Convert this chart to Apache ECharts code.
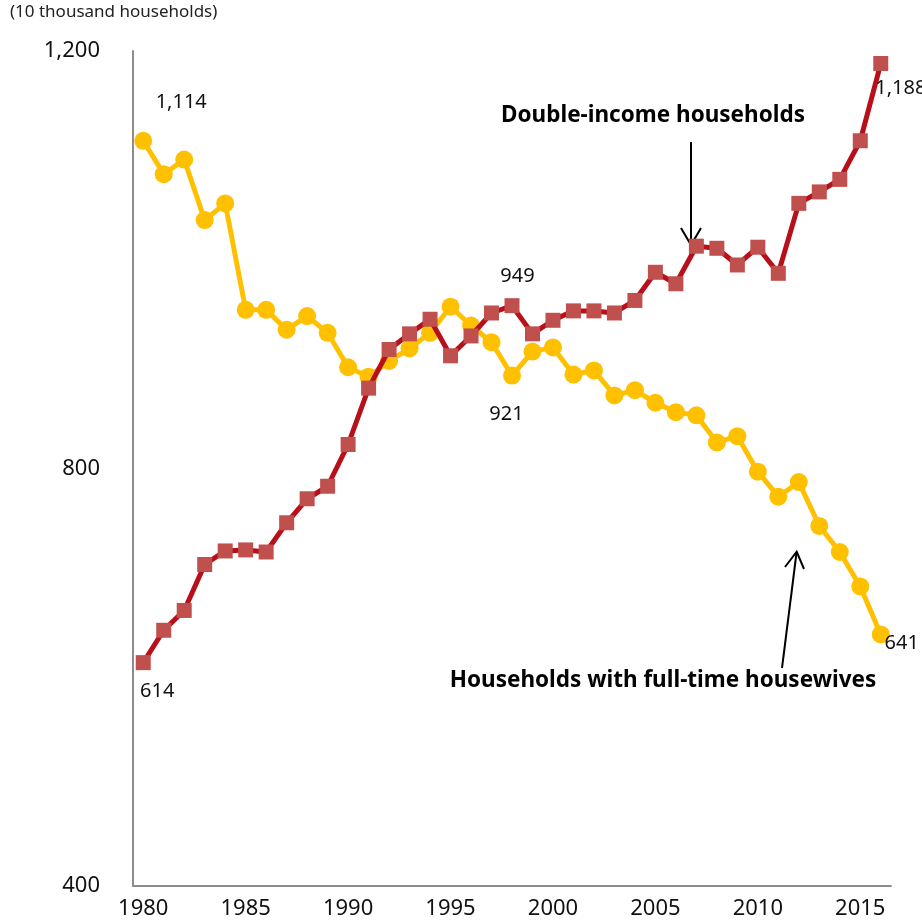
<!DOCTYPE html>
<html>
<head>
<meta charset="utf-8">
<script src="https://cdn.jsdelivr.net/npm/echarts@6/dist/echarts.min.js"></script>
<style>
  html, body { margin: 0; padding: 0; background: #ffffff; }
  #chart { width: 922px; height: 922px; }
</style>
</head>
<body>
<div id="chart"></div>
<script>
// Survey years (x axis categories)
const years = ['1980','1981','1982','1983','1984','1985','1986','1987','1988','1989',
               '1990','1991','1992','1993','1994','1995','1996','1997','1998','1999',
               '2000','2001','2002','2003','2004','2005','2006','2007','2008','2009',
               '2010','2011','2012','2013','2014','2015','2016'];

// Households with full-time housewives (10 thousand households)
const housewifeHouseholds = [1114,1082,1096,1038,1054,952,952,933,946,930,
                             897,888,903,915,930,955,937,921,889,912,
                             916,890,894,870,875,863,854,851,825,831,
                             797,773,787,745,720,687,641];

// Double-income households (10 thousand households)
const dualIncomeHouseholds = [614,645,664,708,721,722,720,748,771,783,
                              823,877,914,929,943,908,927,949,956,929,
                              942,951,951,949,961,988,977,1013,1011,995,
                              1012,987,1054,1065,1077,1114,1188];

// Value axis ticks
const yTicks = [400, 800, 1200];

const FONT = 'Noto Sans';
const fmt = v => Number(v).toLocaleString('en-US');

// Which points carry a value label, and where the text sits relative to the marker
const housewifeLabelAt = { 0: [38, -38], 17: [15, 72], 36: [21, 9] };
const dualLabelAt = { 0: [14, 29], 17: [26, -37], 36: [20, 25] };

function withLabels(values, labelAt) {
  return values.map((v, i) => {
    if (!(i in labelAt)) return v;
    return {
      value: v,
      label: {
        show: true,
        position: 'inside',
        offset: labelAt[i],
        formatter: p => fmt(p.value),
        color: '#111',
        fontFamily: FONT,
        fontSize: 20
      }
    };
  });
}

const chart = echarts.init(document.getElementById('chart'), null, { renderer: 'canvas' });

chart.setOption({
  animation: false,
  backgroundColor: '#ffffff',
  textStyle: { fontFamily: FONT },
  grid: { left: 133, right: 31, top: 51, bottom: 36, containLabel: false },
  xAxis: {
    type: 'category',
    data: years,
    boundaryGap: true,
    axisLine: { show: true, lineStyle: { color: '#8c8c8c', width: 2 } },
    axisTick: { show: false },
    axisLabel: { interval: 4, color: '#111', fontFamily: FONT, fontSize: 22, margin: 12 },
    splitLine: { show: false }
  },
  yAxis: {
    type: 'value',
    min: yTicks[0],
    max: yTicks[yTicks.length - 1],
    interval: yTicks[1] - yTicks[0],
    axisLine: { show: true, lineStyle: { color: '#8c8c8c', width: 2 } },
    axisTick: { show: false },
    axisLabel: { color: '#111', fontFamily: FONT, fontSize: 22, margin: 33, formatter: v => fmt(v) },
    splitLine: { show: false }
  },
  series: [
    {
      name: 'Households with full-time housewives',
      type: 'line',
      data: withLabels(housewifeHouseholds, housewifeLabelAt),
      symbol: 'circle',
      symbolSize: 18,
      showAllSymbol: true,
      lineStyle: { color: '#FFC000', width: 5 },
      itemStyle: { color: '#FFC000' },
      z: 2
    },
    {
      name: 'Double-income households',
      type: 'line',
      data: withLabels(dualIncomeHouseholds, dualLabelAt),
      symbol: 'rect',
      symbolSize: 15,
      showAllSymbol: true,
      lineStyle: { color: '#B8101A', width: 5 },
      itemStyle: { color: '#C0504D' },
      z: 3
    }
  ],
  graphic: [
    {
      type: 'text', left: 10, top: 4,
      style: { text: '(10 thousand households)', fill: '#222', font: '17px "Noto Sans"' }
    },
    {
      type: 'text', x: 653, y: 116,
      style: { text: 'Double-income households', fill: '#000', font: 'bold 22.5px "Noto Sans"',
               textAlign: 'center', textVerticalAlign: 'middle' }
    },
    {
      type: 'text', x: 663, y: 681,
      style: { text: 'Households with full-time housewives', fill: '#000', font: 'bold 22.5px "Noto Sans"',
               textAlign: 'center', textVerticalAlign: 'middle' }
    },
    // arrow pointing down at the double-income line
    { type: 'line', shape: { x1: 691, y1: 142, x2: 691, y2: 244 }, style: { stroke: '#000', lineWidth: 2 } },
    { type: 'polyline', shape: { points: [[681, 228], [691, 245], [701, 228]] }, style: { stroke: '#000', lineWidth: 2, fill: null } },
    // arrow pointing up at the housewives line
    { type: 'line', shape: { x1: 782, y1: 668, x2: 796.5, y2: 553 }, style: { stroke: '#000', lineWidth: 2 } },
    { type: 'polyline', shape: { points: [[785, 567], [796.7, 551.7], [804, 569]] }, style: { stroke: '#000', lineWidth: 2, fill: null } }
  ]
});
</script>
</body>
</html>
